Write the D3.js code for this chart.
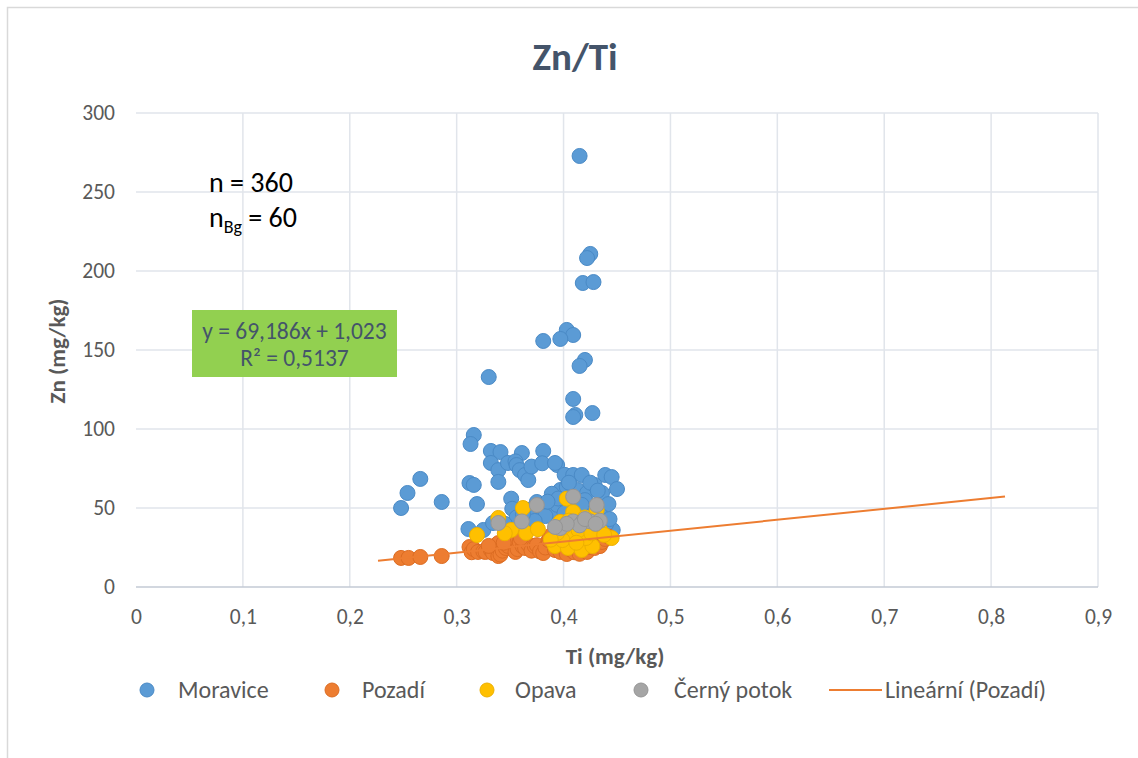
<!DOCTYPE html>
<html><head><meta charset="utf-8">
<script src="https://cdn.jsdelivr.net/npm/d3@7/dist/d3.min.js"></script>
<style>
html,body{margin:0;padding:0;background:#fff;}
svg text{font-family:Carlito,Lato,"Open Sans",sans-serif;}
</style></head>
<body><svg id="c" width="1138" height="758"></svg>
<script>
// ---- data ----
const xTicks = [0,0.1,0.2,0.3,0.4,0.5,0.6,0.7,0.8,0.9];
const yTicks = [0,50,100,150,200,250,300];
const seriesNames = ["Moravice","Pozadí","Opava","Černý potok"];
const moravice = [
 [0.415,272.8],[0.425,210.8],[0.422,208.2],[0.418,192.4],[0.428,193],[0.403,162.7],[0.409,159.5],[0.397,157],
 [0.381,155.7],[0.420,143.7],[0.415,139.9],[0.330,132.9],[0.409,119],[0.411,108.9],[0.409,107.6],[0.427,110.1],
 [0.316,96.2],[0.313,90.5],[0.332,86.1],[0.341,85.4],[0.361,84.8],[0.381,86.1],[0.332,78.5],[0.339,74],
 [0.348,78.5],[0.355,79.5],[0.356,77.2],[0.359,74],[0.364,70.9],[0.367,67.7],[0.370,76.2],[0.380,78.3],
 [0.394,77.2],[0.392,78.5],[0.339,66.5],[0.312,65.8],[0.316,64.6],[0.311,36.7],[0.325,36.1],[0.334,40.5],
 [0.319,52.5],[0.248,50],[0.254,59.5],[0.266,68.4],[0.286,53.8],[0.351,55.9],[0.352,49.5],[0.378,44.9],
 [0.387,47.5],[0.375,53.8],[0.369,49],[0.401,71],[0.409,70.9],[0.417,70.9],[0.439,70.9],[0.445,69.6],
 [0.450,62],[0.397,61.4],[0.403,63.3],[0.413,61.4],[0.422,59.5],[0.429,64.6],[0.436,59.5],[0.392,53.8],
 [0.420,55],[0.442,52.5],[0.383,44.9],[0.373,41.8],[0.446,36],[0.440,40],[0.389,59],[0.405,66],
 [0.425,66],[0.432,61],[0.394,52],[0.410,50],[0.430,48],[0.356,44],[0.345,40],[0.362,46],
 [0.395,56],[0.401,47],[0.385,54],[0.417,52],[0.435,45],[0.443,43]
];
const pozadi = [
 [0.248,18.4],[0.255,18.4],[0.266,19],[0.286,19.6],[0.312,25.3],[0.314,22],[0.316,24],[0.320,22.2],
 [0.325,22.5],[0.327,22.2],[0.332,23.4],[0.334,21.5],[0.339,19.6],[0.341,20.5],[0.339,27.8],[0.343,23],
 [0.346,24.7],[0.348,26],[0.351,29],[0.355,22.2],[0.357,24],[0.359,28.5],[0.362,25.5],[0.364,24.7],
 [0.367,27],[0.370,23],[0.373,25.9],[0.375,26.5],[0.378,22.5],[0.381,21.5],[0.383,25],[0.386,29.7],
 [0.387,31],[0.389,33],[0.392,23.4],[0.394,27],[0.397,22.2],[0.399,25.9],[0.401,29],[0.403,20.9],
 [0.406,24],[0.408,28],[0.410,22],[0.412,26],[0.415,21],[0.417,24.5],[0.420,27.5],[0.422,22.2],
 [0.425,25.3],[0.427,29],[0.429,24.7],[0.431,27],[0.434,25.9],[0.436,28.5],[0.439,30.4],[0.442,32],
 [0.344,28],[0.330,26],[0.360,31],[0.395,32]
];
const opava = [
 [0.319,32.9],[0.339,43.7],[0.351,36.1],[0.362,50],[0.365,34.2],[0.376,36.6],[0.403,55.9],[0.409,47.5],
 [0.397,41.2],[0.392,25.9],[0.404,24.7],[0.417,23.4],[0.427,25.9],[0.431,48.7],[0.445,31],[0.434,36.1],
 [0.421,31],[0.409,32],[0.399,29.7],[0.394,34.2],[0.414,36],[0.426,34],[0.438,33],[0.400,38],
 [0.412,28],[0.388,30],[0.420,44],[0.405,42],[0.430,40],[0.345,34]
];
const cernyPotok = [
 [0.339,40.5],[0.361,41.5],[0.375,51.9],[0.409,57.2],[0.431,51.9],[0.397,37.3],[0.409,41.5],[0.418,41.5],
 [0.425,41.5],[0.434,42],[0.415,39],[0.403,40],[0.392,38],[0.420,43],[0.430,40]
];
const trend = {slope:69.186, intercept:1.023, x0:0.2264, x1:0.813};
const trendLabel = ["y = 69,186x + 1,023","R² = 0,5137"];

// ---- layout ----
const svg = d3.select("#c");
const L=136,R=1098,T=113,B=587;
const x = d3.scaleLinear().domain([0,0.9]).range([L,R]);
const y = d3.scaleLinear().domain([0,300]).range([B,T]);
const colors = ["#5B9BD5","#ED7D31","#FFC000","#A5A5A5"];
const strokes = ["#4A8AC6","#DC6C22","#EDB000","#959595"];
const fmt = d => String(d).replace(".",",");

svg.append("rect").attr("x",7.5).attr("y",7.5).attr("width",1160).attr("height",780)
  .attr("fill","#fff").attr("stroke","#D9D9D9").attr("stroke-width",1.5);

// gridlines
svg.append("g").selectAll("line").data(yTicks.filter(d=>d>0)).join("line")
  .attr("x1",L).attr("x2",R).attr("y1",d=>y(d)).attr("y2",d=>y(d))
  .attr("stroke","#E1E5EB").attr("stroke-width",1.5);
svg.append("g").selectAll("line").data(xTicks.filter(d=>d>0)).join("line")
  .attr("x1",d=>x(d)).attr("x2",d=>x(d)).attr("y1",T).attr("y2",B)
  .attr("stroke","#E1E5EB").attr("stroke-width",1.5);
svg.append("line").attr("x1",L).attr("x2",R).attr("y1",B).attr("y2",B)
  .attr("stroke","#C3CAD4").attr("stroke-width",1.5);

// tick labels via axes
const xAxis = svg.append("g").attr("transform",`translate(0,${B})`)
  .call(d3.axisBottom(x).tickValues(xTicks).tickFormat(fmt).tickSize(0).tickPadding(22));
const yAxis = svg.append("g").attr("transform",`translate(${L},0)`)
  .call(d3.axisLeft(y).tickValues(yTicks).tickSize(0).tickPadding(21));
[xAxis,yAxis].forEach(a=>{a.select(".domain").remove();
  a.selectAll("text").attr("fill","#595959").style("font-size","21.5px").style("font-family","Carlito,Lato,sans-serif");});

// title & axis titles
svg.append("text").attr("x",575).attr("y",70).attr("text-anchor","middle")
  .attr("fill","#44546A").style("font-size","39px").style("font-weight","bold").text("Zn/Ti");
svg.append("text").attr("x",615).attr("y",664).attr("text-anchor","middle")
  .attr("fill","#595959").style("font-size","23px").style("font-weight","bold").text("Ti (mg/kg)");
svg.append("text").attr("transform","translate(65,351) rotate(-90)").attr("text-anchor","middle")
  .attr("fill","#595959").style("font-size","23px").style("font-weight","bold").text("Zn (mg/kg)");

// points
const allSeries=[moravice,pozadi,opava,cernyPotok];
allSeries.forEach((s,i)=>{
  svg.append("g").selectAll("circle").data(s).join("circle")
    .attr("cx",d=>x(d[0])).attr("cy",d=>y(d[1])).attr("r",7.5)
    .attr("fill",colors[i]).attr("stroke",strokes[i]).attr("stroke-width",1);
});
// trendline
svg.append("line").attr("x1",x(trend.x0)).attr("y1",y(trend.slope*trend.x0+trend.intercept))
  .attr("x2",x(trend.x1)).attr("y2",y(trend.slope*trend.x1+trend.intercept))
  .attr("stroke","#ED7D31").attr("stroke-width",2);

// annotations
svg.append("text").attr("x",209).attr("y",192).attr("fill","#000").style("font-size","28px").text("n = 360");
const t2 = svg.append("text").attr("x",209).attr("y",227).attr("fill","#000").style("font-size","28px");
t2.append("tspan").text("n");
t2.append("tspan").attr("dy",6).style("font-size","18px").text("Bg");
t2.append("tspan").attr("dy",-6).text(" = 60");

// trend label box
svg.append("rect").attr("x",192).attr("y",310).attr("width",205).attr("height",67).attr("fill","#92D050");
trendLabel.forEach((t,i)=>svg.append("text").attr("x",294.5).attr("y",339+i*27).attr("text-anchor","middle")
  .attr("fill","#44546A").style("font-size","23.5px").text(t));

// legend
const legY=690;
const legItems=[{m:147,t:178,i:0},{m:332,t:362,i:1},{m:487,t:515,i:2},{m:641,t:674,i:3}];
legItems.forEach(d=>{
  svg.append("circle").attr("cx",d.m).attr("cy",legY).attr("r",7).attr("fill",colors[d.i]).attr("stroke",strokes[d.i]);
  svg.append("text").attr("x",d.t).attr("y",legY+8).attr("fill","#595959").style("font-size","24px").text(seriesNames[d.i]);
});
svg.append("line").attr("x1",829).attr("x2",882).attr("y1",legY).attr("y2",legY).attr("stroke","#ED7D31").attr("stroke-width",2);
svg.append("text").attr("x",885).attr("y",legY+8).attr("fill","#595959").style("font-size","24px").text("Lineární (Pozadí)");
</script></body></html>
